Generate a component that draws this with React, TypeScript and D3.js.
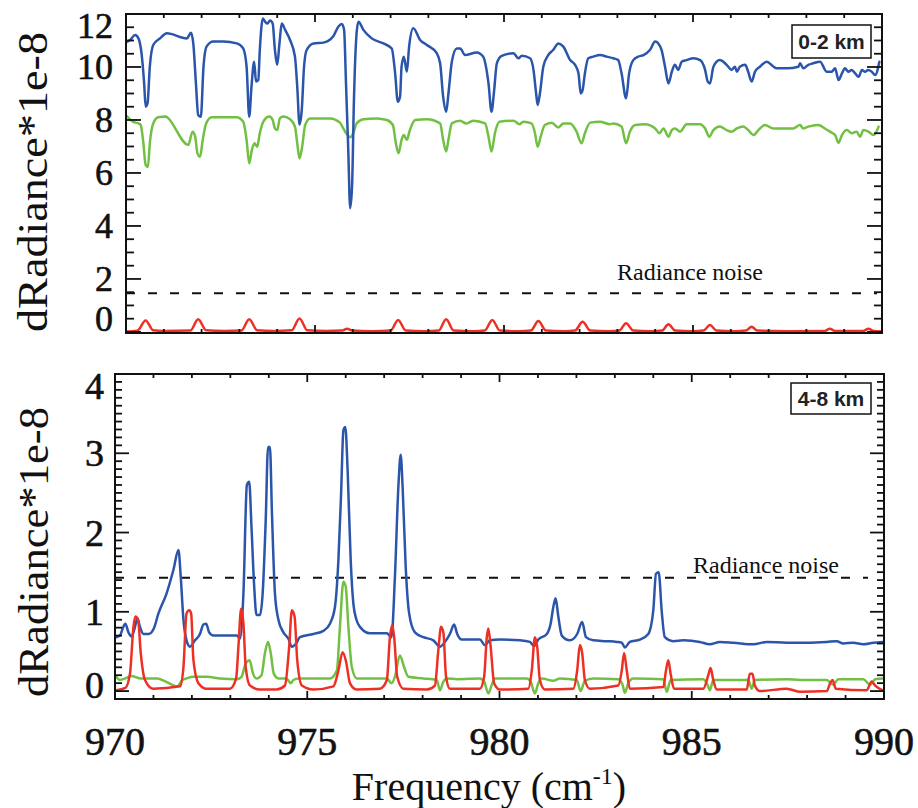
import React from "react";
import * as d3 from "d3";

type Pt = [number, number];

// ---------- tick labels ----------
const xTickLabels = [970, 975, 980, 985, 990];
const topYTickLabels = [0, 2, 4, 6, 8, 10, 12];
const botYTickLabels = [0, 1, 2, 3, 4];

const topNoise = 1.46;
const botNoise = 1.43;

// ---------- top panel (0-2 km) ----------
const topBlue: Pt[] = [
  [970.02,10.95],[970.11,11.02],[970.24,11.21],[970.33,11.08],[970.41,10.52],[970.48,9.38],[970.52,8.50],[970.57,8.63],[970.63,10.01],[970.72,10.83],[970.90,11.08],[971.08,11.27],[971.61,11.08],[971.72,11.29],[971.78,10.89],[971.85,9.38],[971.91,8.19],[971.98,8.12],[972.05,10.01],[972.13,10.77],[972.31,10.96],[972.57,10.96],[972.93,10.89],[973.10,10.70],[973.19,10.01],[973.26,8.12],[973.32,9.26],[973.39,10.20],[973.44,9.45],[973.50,9.51],[973.54,10.64],[973.62,11.83],[973.68,11.71],[973.74,11.64],[973.81,11.75],[973.88,11.64],[973.94,10.64],[974.00,10.08],[974.06,10.89],[974.12,11.64],[974.21,11.40],[974.34,11.02],[974.47,10.39],[974.53,9.26],[974.59,7.83],[974.65,8.38],[974.71,10.01],[974.78,10.64],[974.96,10.89],[975.22,10.92],[975.48,11.15],[975.62,11.53],[975.71,11.62],[975.77,11.40],[975.82,9.38],[975.88,6.87],[975.93,4.67],[975.98,5.48],[976.03,8.75],[976.10,11.27],[976.15,11.71],[976.28,11.40],[976.50,11.08],[976.81,10.89],[977.03,10.70],[977.12,9.76],[977.19,8.69],[977.25,8.88],[977.29,10.01],[977.35,10.39],[977.43,9.82],[977.49,10.77],[977.60,11.46],[977.78,11.02],[977.96,10.83],[978.22,10.52],[978.31,10.14],[978.39,8.88],[978.47,8.31],[978.53,9.00],[978.62,10.20],[978.75,10.70],[978.84,10.70],[978.97,10.45],[979.28,10.55],[979.45,10.39],[979.59,9.38],[979.67,8.31],[979.74,9.13],[979.81,10.14],[979.94,10.42],[980.25,10.52],[980.38,10.33],[980.47,10.42],[980.69,10.33],[980.78,9.89],[980.85,9.00],[980.89,8.57],[980.95,9.00],[981.04,10.01],[981.17,10.45],[981.30,10.64],[981.44,10.89],[981.57,10.77],[981.75,10.26],[981.88,10.08],[981.97,9.76],[982.03,9.00],[982.08,9.13],[982.14,9.76],[982.23,10.33],[982.36,10.39],[982.54,10.45],[982.72,10.39],[982.89,10.33],[983.02,10.26],[983.11,9.76],[983.23,8.82],[983.31,9.76],[983.42,10.26],[983.55,10.39],[983.69,10.45],[983.86,10.64],[984.00,10.96],[984.08,10.89],[984.17,10.64],[984.26,10.01],[984.35,9.38],[984.44,9.82],[984.52,10.08],[984.61,9.89],[984.70,10.20],[984.83,10.26],[985.01,10.33],[985.19,10.26],[985.32,9.89],[985.39,9.45],[985.45,9.38],[985.54,10.01],[985.71,10.26],[985.89,10.08],[986.02,9.89],[986.11,10.01],[986.16,9.82],[986.24,10.01],[986.38,10.08],[986.46,9.82],[986.55,9.45],[986.64,9.82],[986.77,10.01],[986.95,10.20],[987.13,10.01],[987.21,9.95],[987.48,9.95],[987.79,10.01],[987.83,10.14],[987.92,9.95],[988.05,10.08],[988.18,10.14],[988.36,10.20],[988.54,9.82],[988.67,9.82],[988.76,9.95],[988.85,9.51],[988.94,9.76],[989.02,9.95],[989.11,9.82],[989.20,9.89],[989.29,9.76],[989.38,9.63],[989.47,9.89],[989.55,9.82],[989.64,9.89],[989.73,9.82],[989.82,9.70],[989.93,10.20]
];

const topGreen: Pt[] = [
  [970.02,8.15],[970.19,7.93],[970.33,7.87],[970.39,7.81],[970.46,7.12],[970.52,6.30],[970.58,6.23],[970.63,7.12],[970.72,7.87],[970.85,8.10],[971.06,8.13],[971.12,8.06],[971.65,7.06],[971.76,7.56],[971.83,7.37],[971.89,6.74],[971.96,6.61],[972.03,7.25],[972.12,7.87],[972.27,8.10],[972.93,8.10],[973.10,7.93],[973.19,7.25],[973.26,6.36],[973.33,6.87],[973.40,7.12],[973.47,6.99],[973.54,7.50],[973.63,7.93],[973.79,8.13],[973.88,8.00],[973.94,7.68],[974.00,7.62],[974.07,8.06],[974.16,8.13],[974.34,8.03],[974.47,7.75],[974.53,7.12],[974.59,6.55],[974.66,6.99],[974.74,7.81],[974.87,8.06],[975.40,8.06],[975.66,7.90],[975.75,7.68],[975.85,7.45],[975.93,7.35],[976.01,7.50],[976.10,7.87],[976.28,8.03],[976.63,8.06],[976.90,8.00],[977.06,7.81],[977.14,7.12],[977.21,6.74],[977.29,7.25],[977.35,7.43],[977.43,7.25],[977.51,7.62],[977.65,8.00],[977.96,8.03],[978.31,7.87],[978.39,7.25],[978.47,6.81],[978.53,7.25],[978.62,7.87],[978.84,7.97],[979.00,7.87],[979.19,7.97],[979.50,7.87],[979.59,7.37],[979.67,6.81],[979.76,7.50],[979.88,7.93],[980.25,7.97],[980.41,7.84],[980.51,7.93],[980.73,7.87],[980.82,7.50],[980.89,6.99],[980.97,7.37],[981.08,7.81],[981.26,7.90],[981.44,7.72],[981.57,7.87],[981.75,7.87],[981.92,7.56],[982.05,7.12],[982.14,7.50],[982.28,7.90],[982.54,7.93],[982.80,7.84],[982.89,7.87],[983.11,7.75],[983.23,7.12],[983.33,7.56],[983.47,7.81],[983.73,7.84],[984.00,7.68],[984.11,7.50],[984.22,7.68],[984.35,7.37],[984.44,7.62],[984.52,7.68],[984.66,7.56],[984.83,7.84],[985.19,7.84],[985.32,7.68],[985.43,7.37],[985.54,7.62],[985.71,7.75],[985.89,7.62],[986.02,7.56],[986.16,7.68],[986.33,7.75],[986.46,7.62],[986.60,7.43],[986.73,7.62],[986.90,7.81],[987.13,7.68],[987.65,7.68],[987.83,7.81],[987.92,7.68],[988.05,7.75],[988.31,7.81],[988.49,7.68],[988.62,7.56],[988.76,7.43],[988.85,7.14],[988.94,7.43],[989.07,7.62],[989.20,7.50],[989.33,7.56],[989.42,7.37],[989.51,7.62],[989.64,7.56],[989.78,7.43],[989.91,7.75]
];

const topRed: Pt[] = [
  [970.0,0.02],[970.3,0.05],[970.52,0.43],[970.72,0.06],[971.0,0.04],[971.7,0.05],[971.91,0.48],[972.12,0.06],[972.6,0.04],[973.05,0.05],[973.26,0.48],[973.47,0.06],[973.9,0.04],[974.38,0.06],[974.59,0.51],[974.8,0.06],[975.3,0.04],[975.72,0.05],[975.85,0.12],[975.98,0.05],[976.5,0.03],[977.0,0.05],[977.2,0.45],[977.4,0.05],[977.9,0.03],[978.27,0.05],[978.47,0.48],[978.67,0.05],[979.2,0.03],[979.49,0.05],[979.69,0.45],[979.89,0.05],[980.4,0.03],[980.71,0.05],[980.91,0.41],[981.11,0.05],[981.6,0.03],[981.88,0.05],[982.08,0.38],[982.28,0.05],[982.8,0.03],[983.05,0.05],[983.23,0.33],[983.42,0.05],[983.9,0.03],[984.18,0.05],[984.35,0.29],[984.53,0.05],[985.0,0.03],[985.28,0.05],[985.45,0.26],[985.62,0.05],[986.1,0.03],[986.4,0.05],[986.55,0.2],[986.7,0.05],[987.5,0.03],[988.48,0.04],[988.62,0.12],[988.76,0.04],[989.5,0.04],[989.64,0.12],[989.78,0.04],[990.0,0.02]
];

// ---------- bottom panel (4-8 km) ----------
const botBlue: Pt[] = [
  [970.03,0.68],[970.13,0.70],[970.20,0.79],[970.27,0.85],[970.35,0.74],[970.43,0.69],[970.52,0.81],[970.58,0.92],[970.65,0.81],[970.74,0.72],[970.87,0.72],[971.01,0.79],[971.13,0.98],[971.34,1.23],[971.52,1.53],[971.65,1.78],[971.71,1.44],[971.78,0.90],[971.86,0.64],[971.95,0.56],[972.08,0.64],[972.21,0.72],[972.30,0.84],[972.37,0.85],[972.45,0.74],[972.56,0.70],[972.82,0.70],[973.17,0.70],[973.25,0.66],[973.34,1.23],[973.43,2.60],[973.49,2.64],[973.55,2.07],[973.62,1.32],[973.68,0.96],[973.77,0.96],[973.84,1.23],[973.92,2.16],[973.98,3.08],[974.03,3.08],[974.08,2.28],[974.16,1.23],[974.25,0.90],[974.38,0.74],[974.51,0.66],[974.60,0.56],[974.71,0.60],[974.81,0.68],[975.16,0.72],[975.42,0.76],[975.59,0.85],[975.72,1.06],[975.81,1.65],[975.88,2.49],[975.94,3.29],[975.99,3.33],[976.05,2.79],[976.13,1.65],[976.20,1.10],[976.28,0.90],[976.37,0.81],[976.63,0.73],[976.89,0.73],[977.07,0.73],[977.19,0.68],[977.28,1.44],[977.37,2.58],[977.43,2.98],[977.48,2.58],[977.56,1.57],[977.65,0.98],[977.80,0.74],[978.02,0.68],[978.28,0.64],[978.45,0.56],[978.58,0.62],[978.71,0.72],[978.82,0.84],[978.90,0.72],[979.02,0.65],[979.49,0.65],[979.62,0.58],[979.75,0.64],[980.01,0.65],[980.53,0.64],[980.79,0.62],[980.90,0.57],[981.01,0.65],[981.23,0.72],[981.33,0.85],[981.40,1.06],[981.46,1.17],[981.53,0.94],[981.62,0.70],[981.83,0.64],[982.02,0.72],[982.15,0.87],[982.25,0.68],[982.44,0.64],[982.79,0.63],[983.05,0.62],[983.18,0.61],[983.26,0.55],[983.39,0.62],[983.65,0.65],[983.87,0.72],[984.00,1.02],[984.07,1.48],[984.14,1.50],[984.22,1.00],[984.30,0.68],[984.52,0.63],[984.78,0.64],[985.21,0.62],[985.47,0.59],[985.73,0.62],[986.08,0.61],[986.60,0.59],[986.95,0.62],[987.47,0.61],[987.99,0.61],[988.51,0.62],[988.77,0.63],[988.94,0.60],[989.20,0.61],[989.46,0.59],[989.72,0.61],[989.97,0.62]
];

const botGreen: Pt[] = [
  [970.03,0.18],[970.13,0.14],[970.27,0.16],[970.43,0.19],[970.65,0.16],[971.10,0.16],[971.32,0.12],[971.62,0.06],[971.75,0.14],[971.86,0.16],[972.04,0.18],[972.39,0.18],[972.73,0.16],[973.17,0.15],[973.29,0.18],[973.40,0.35],[973.50,0.39],[973.59,0.22],[973.68,0.16],[973.81,0.20],[973.90,0.48],[973.98,0.62],[974.05,0.48],[974.13,0.22],[974.25,0.16],[974.46,0.16],[974.57,0.10],[974.64,0.14],[974.77,0.16],[975.59,0.16],[975.77,0.26],[975.85,0.81],[975.94,1.38],[976.00,1.32],[976.07,0.81],[976.16,0.30],[976.29,0.16],[977.07,0.16],[977.19,0.10],[977.28,0.18],[977.41,0.45],[977.52,0.30],[977.63,0.18],[978.02,0.16],[978.37,0.14],[978.45,0.01],[978.54,0.12],[978.63,0.16],[978.90,0.15],[979.49,0.16],[979.60,0.12],[979.71,-0.03],[979.80,0.08],[979.88,0.16],[980.71,0.16],[980.81,0.12],[980.92,-0.03],[981.01,0.10],[981.10,0.16],[981.40,0.13],[981.57,0.16],[982.01,0.14],[982.11,0.00],[982.22,0.13],[982.44,0.16],[983.09,0.15],[983.20,0.08],[983.26,-0.02],[983.35,0.10],[983.48,0.16],[984.26,0.15],[984.35,-0.01],[984.45,0.14],[985.30,0.15],[985.41,0.08],[985.47,0.01],[985.56,0.14],[986.47,0.14],[986.56,0.03],[986.64,0.14],[987.47,0.15],[987.82,0.14],[988.51,0.14],[988.68,0.08],[988.81,0.15],[989.46,0.15],[989.64,0.08],[989.77,0.15],[989.97,0.16]
];

const botRed: Pt[] = [
  [970.03,0.01],[970.27,0.04],[970.39,0.22],[970.48,0.81],[970.53,0.94],[970.60,0.90],[970.67,0.48],[970.78,0.14],[970.99,0.03],[971.69,0.06],[971.78,0.30],[971.86,0.98],[971.93,1.02],[971.98,0.98],[972.04,0.39],[972.17,0.10],[972.38,0.03],[972.99,0.03],[973.15,0.16],[973.21,0.56],[973.28,1.04],[973.34,0.85],[973.40,0.30],[973.51,0.07],[973.77,0.02],[974.20,0.02],[974.42,0.07],[974.53,0.56],[974.60,1.02],[974.67,0.94],[974.74,0.39],[974.86,0.07],[975.16,0.02],[975.68,0.06],[975.81,0.26],[975.92,0.49],[976.01,0.37],[976.11,0.10],[976.28,0.02],[976.89,0.03],[977.07,0.14],[977.15,0.68],[977.21,0.83],[977.26,0.68],[977.34,0.18],[977.50,0.03],[978.11,0.02],[978.32,0.07],[978.41,0.52],[978.48,0.81],[978.54,0.74],[978.61,0.18],[978.71,0.03],[979.49,0.03],[979.60,0.18],[979.67,0.68],[979.71,0.79],[979.77,0.56],[979.86,0.10],[980.01,0.02],[980.75,0.03],[980.84,0.26],[980.92,0.68],[980.98,0.56],[981.05,0.14],[981.18,0.02],[981.92,0.03],[982.02,0.26],[982.09,0.58],[982.15,0.48],[982.22,0.14],[982.35,0.03],[983.09,0.07],[983.18,0.26],[983.24,0.48],[983.31,0.26],[983.39,0.03],[984.26,0.05],[984.33,0.26],[984.39,0.39],[984.45,0.22],[984.54,0.03],[985.30,0.03],[985.43,0.20],[985.49,0.29],[985.56,0.14],[985.65,0.02],[986.43,0.02],[986.51,0.22],[986.58,0.22],[986.64,0.07],[986.77,0.00],[987.47,0.03],[987.82,-0.01],[988.51,0.00],[988.60,0.10],[988.66,0.14],[988.75,0.03],[989.55,0.01],[989.68,0.12],[989.77,0.07],[989.97,0.01]
];

const BLUE = "#2a55ab";
const GREEN = "#72c043";
const RED = "#ee3024";
const SERIF = "'Liberation Serif', 'Times New Roman', serif";
const SANS = "'Liberation Sans', Arial, sans-serif";

type PanelProps = {
  id: string;
  left: number; right: number; top: number; bottom: number;
  yDomain: [number, number];
  yMajor: number[]; yMinorStep: number;
  yMajorLen: number; yMinorLen: number;
  yLabelX: number; yLabelSize: number;
  series: { data: Pt[]; color: string }[];
  noise: number; noiseX1: number;
  noiseTextX: number; noiseTextY: number;
  boxLabel: string; boxX: number; boxY: number; boxW: number; boxH: number;
  showXLabels: boolean;
  titleX: number; titleY: number; titleLen: number;
};

function Panel(p: PanelProps) {
  const x = d3.scaleLinear().domain([970, 990]).range([p.left, p.right]);
  const y = d3.scaleLinear().domain(p.yDomain).range([p.bottom, p.top]);
  const line = d3.line<Pt>().x(d => x(d[0])).y(d => y(d[1])).curve(d3.curveMonotoneX);
  const xMinor = d3.range(970, 990.001, 1);
  const yMinor = d3.range(0, p.yDomain[1] + 1e-6, p.yMinorStep).map(v => +v.toFixed(4));
  const isMajorY = (v: number) => p.yMajor.some(m => Math.abs(m - v) < 1e-6);
  const isMajorX = (v: number) => Math.abs(v % 5) < 1e-6;
  const labelY = (v: number) => Math.min(Math.max(y(v), p.top + 12), p.bottom - 14);
  return (
    <g>
      <defs>
        <clipPath id={p.id}>
          <rect x={p.left} y={p.top} width={p.right - p.left} height={p.bottom - p.top} />
        </clipPath>
      </defs>
      {/* noise line */}
      <line x1={p.left} x2={p.noiseX1} y1={y(p.noise)} y2={y(p.noise)}
        stroke="#111" strokeWidth={2} strokeDasharray="9 13" />
      <text x={p.noiseTextX} y={p.noiseTextY} fontFamily={SERIF} fontSize={24} fill="#111">Radiance noise</text>
      <g clipPath={`url(#${p.id})`}>
        {p.series.map((s, i) => (
          <path key={i} d={line(s.data) || ""} fill="none" stroke={s.color} strokeWidth={2.5}
            strokeLinejoin="round" strokeLinecap="round" />
        ))}
      </g>
      {/* frame */}
      <rect x={p.left} y={p.top} width={p.right - p.left} height={p.bottom - p.top}
        fill="none" stroke="#111" strokeWidth={2} />
      {/* y ticks */}
      {yMinor.map(v => {
        const L = isMajorY(v) ? p.yMajorLen : p.yMinorLen;
        return (
          <g key={"y" + v}>
            <line x1={p.left} x2={p.left + L} y1={y(v)} y2={y(v)} stroke="#111" strokeWidth={1.8} />
            <line x1={p.right} x2={p.right - L} y1={y(v)} y2={y(v)} stroke="#111" strokeWidth={1.8} />
          </g>
        );
      })}
      {/* x ticks */}
      {xMinor.map(v => {
        const L = isMajorX(v) ? 8 : 4;
        return (
          <g key={"x" + v}>
            <line x1={x(v)} x2={x(v)} y1={p.bottom} y2={p.bottom - L} stroke="#111" strokeWidth={1.8} />
            <line x1={x(v)} x2={x(v)} y1={p.top} y2={p.top + L} stroke="#111" strokeWidth={1.8} />
          </g>
        );
      })}
      {/* y tick labels */}
      {p.yMajor.map(v => (
        <text key={"yl" + v} x={p.yLabelX} y={labelY(v)} textAnchor="end" dominantBaseline="central"
          fontFamily={SERIF} fontSize={p.yLabelSize} fill="#111" stroke="#111" strokeWidth={0.6}>{v}</text>
      ))}
      {p.showXLabels && xTickLabels.map(v => (
        <text key={"xl" + v} x={x(v)} y={755} textAnchor="middle" fontFamily={SERIF} fontSize={40}
          fill="#111" stroke="#111" strokeWidth={0.6}>{v}</text>
      ))}
      {/* label box */}
      <rect x={p.boxX} y={p.boxY} width={p.boxW} height={p.boxH} fill="#fff" stroke="#111" strokeWidth={1.5} />
      <text x={p.boxX + p.boxW / 2} y={p.boxY + p.boxH / 2} textAnchor="middle" dominantBaseline="central"
        fontFamily={SANS} fontWeight="bold" fontSize={21} fill="#222">{p.boxLabel}</text>
      {/* y title */}
      <text transform={`translate(${p.titleX},${p.titleY}) rotate(-90)`} textAnchor="middle"
        fontFamily={SERIF} fontSize={42} fill="#111" textLength={p.titleLen} lengthAdjust="spacingAndGlyphs">
        dRadiance*1e-8
      </text>
    </g>
  );
}

export default function App() {
  return (
    <svg width={918} height={808} viewBox="0 0 918 808"
      style={{ position: "absolute", left: 0, top: 0, background: "#fff" }}>
      <rect x={0} y={0} width={918} height={808} fill="#fff" />
      <Panel id="clipTop" left={126} right={882} top={14} bottom={333}
        yDomain={[-0.04, 12]} yMajor={topYTickLabels} yMinorStep={0.5}
        yMajorLen={15} yMinorLen={8} yLabelX={113} yLabelSize={36}
        series={[{ data: topGreen, color: GREEN }, { data: topBlue, color: BLUE }, { data: topRed, color: RED }]}
        noise={topNoise} noiseX1={877} noiseTextX={617} noiseTextY={280}
        boxLabel="0-2 km" boxX={792} boxY={25} boxW={79} boxH={33}
        showXLabels={false} titleX={47} titleY={182} titleLen={300} />
      <Panel id="clipBot" left={115} right={884} top={374} bottom={699}
        yDomain={[-0.1, 4]} yMajor={botYTickLabels} yMinorStep={0.1}
        yMajorLen={14} yMinorLen={7} yLabelX={104} yLabelSize={38}
        series={[{ data: botBlue, color: BLUE }, { data: botGreen, color: GREEN }, { data: botRed, color: RED }]}
        noise={botNoise} noiseX1={868} noiseTextX={693} noiseTextY={573}
        boxLabel="4-8 km" boxX={791} boxY={383} boxW={80} boxH={31}
        showXLabels={true} titleX={48} titleY={552} titleLen={290} />
      <text x={489} y={800} textAnchor="middle" fontFamily={SERIF} fontSize={40} fill="#111">
        Frequency (cm<tspan fontSize={24} dy={-16}>-1</tspan><tspan dy={16}>)</tspan>
      </text>
    </svg>
  );
}
